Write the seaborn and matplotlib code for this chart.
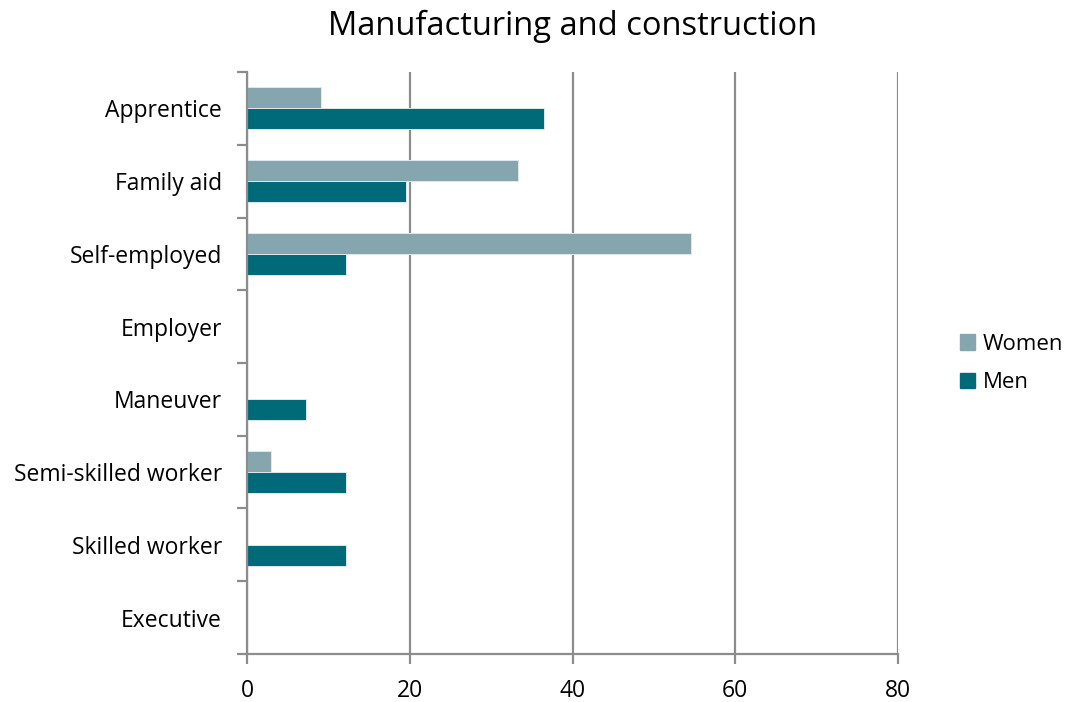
import matplotlib
matplotlib.use("Agg")
import matplotlib.pyplot as plt
import seaborn as sns
import pandas as pd

categories = ["Apprentice", "Family aid", "Self-employed", "Employer",
              "Maneuver", "Semi-skilled worker", "Skilled worker", "Executive"]
women = [9.1, 33.3, 54.5, 0.0, 0.0, 3.0, 0.0, 0.0]
men = [36.5, 19.5, 12.2, 0.0, 7.3, 12.2, 12.2, 0.0]
series = ["Women", "Men"]
x_ticks = [0, 20, 40, 60, 80]

df = pd.DataFrame({
    "category": categories * 2,
    "value": women + men,
    "group": [series[0]] * len(categories) + [series[1]] * len(categories),
})

sns.set_theme(style="white")
plt.rcParams["font.family"] = ["Open Sans", "DejaVu Sans"]
plt.rcParams["text.color"] = "#000000"

fig = plt.figure(figsize=(10.71, 7.02), dpi=100)
ax = fig.add_axes([0.2306, 0.0684, 0.608, 0.829])

palette = {"Women": "#85A6AE", "Men": "#006A78"}
sns.barplot(data=df, x="value", y="category", hue="group", order=categories,
            hue_order=series, palette=palette, orient="h", width=0.58,
            edgecolor="#dde9ec", linewidth=0.7, saturation=1, ax=ax)

grid_c = "#8c8c8c"
ax.set_xlim(0, 80)
ax.set_ylim(len(categories) - 0.5, -0.5)
ax.set_xticks(x_ticks)
ax.set_xticklabels([str(t) for t in x_ticks], fontsize=16.5, color="#000000")
ax.xaxis.grid(True, color=grid_c, linewidth=1.6)
ax.set_axisbelow(True)
ax.set_xlabel("")
ax.set_ylabel("")

# category labels at centres, tick marks between categories
ax.set_yticks(range(len(categories)))
ax.set_yticklabels(categories, fontsize=16.5, color="#000000")
ax.set_yticks([i - 0.5 for i in range(len(categories) + 1)], minor=True)
ax.tick_params(axis="y", which="major", left=False, length=0, pad=18)
ax.tick_params(axis="y", which="minor", left=True, length=7, width=1.6,
               color=grid_c, direction="out")
ax.tick_params(axis="x", which="major", bottom=True, length=7, width=1.6,
               color=grid_c, direction="out", pad=11)

for side in ["top", "right"]:
    ax.spines[side].set_visible(False)
for side in ["left", "bottom"]:
    ax.spines[side].set_color(grid_c)
    ax.spines[side].set_linewidth(1.6)

ax.set_title("Manufacturing and construction", fontsize=23.5, pad=27,
             color="#000000")

ax.legend_.remove()
handles = [plt.Rectangle((0, 0), 1, 1, color=palette[s]) for s in series]
fig.legend(handles, series, loc="center left", bbox_to_anchor=(0.896, 0.482),
           frameon=False, fontsize=16, handlelength=0.7, handleheight=0.7,
           handletextpad=0.35, labelspacing=0.78, borderpad=0, borderaxespad=0,
           labelcolor="#000000")

fig.savefig("out.png", dpi=100)
